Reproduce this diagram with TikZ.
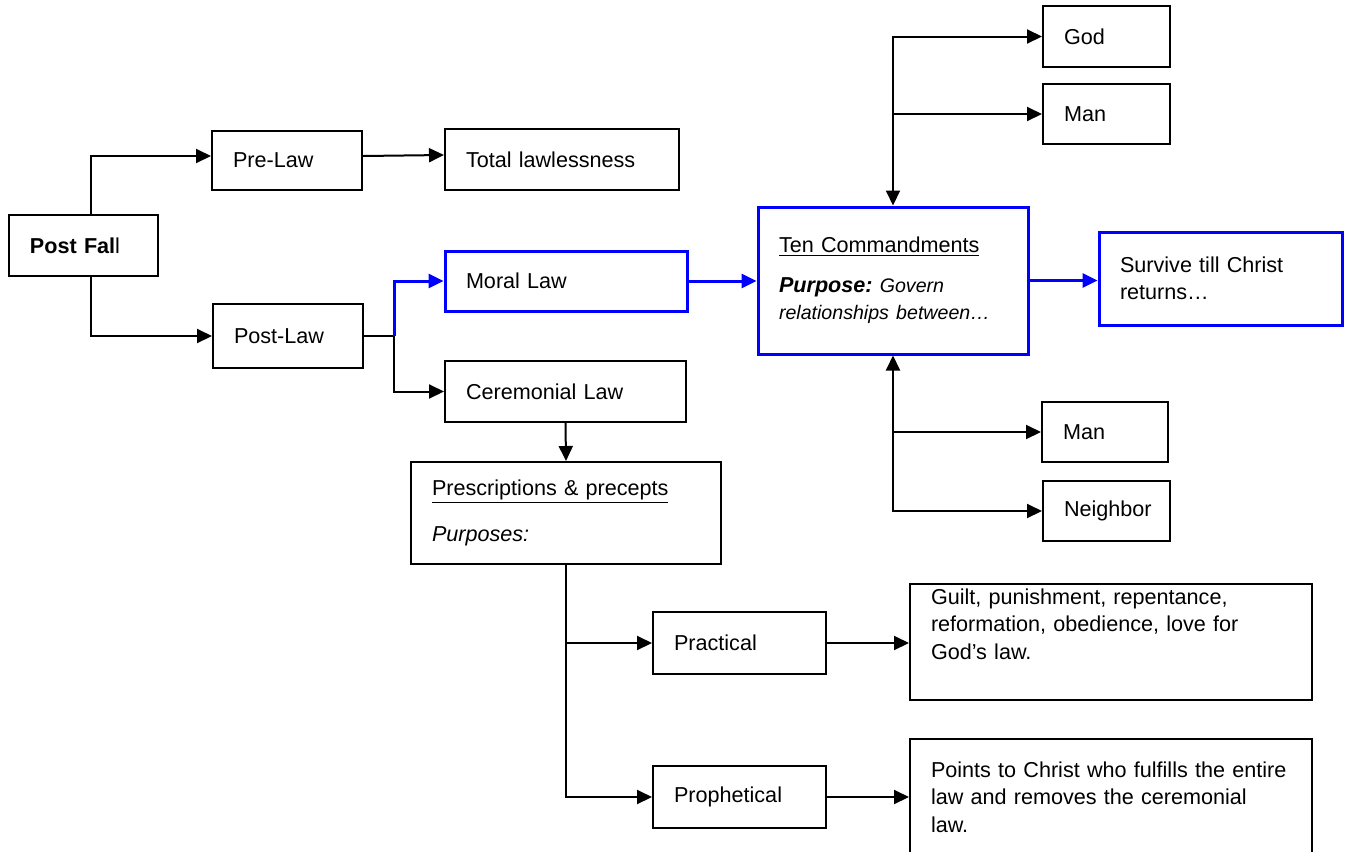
\documentclass[tikz,border=0pt]{standalone}
\usepackage{fontspec}
\setmainfont{Liberation Sans}
\usetikzlibrary{arrows.meta,calc}
\hyphenpenalty=10000

\begin{document}
\begin{tikzpicture}[
    x=0.5pt, y=-0.5pt,
    box/.style={rectangle, draw, line width=1pt, inner xsep=10.5pt, inner ysep=0pt,
                align=left, font=\fontsize{10.8}{13.75}\selectfont},
    bluebox/.style={box, draw=blue, line width=1.5pt},
    arrow/.style={-{Triangle[length=7.5pt,width=7pt]}, line width=1pt},
    twoway/.style={{Triangle[length=7.5pt,width=7pt]}-{Triangle[length=7.5pt,width=7pt]}, line width=1pt},
    bluearrow/.style={arrow, blue, line width=1.5pt},
    link/.style={line width=1pt}
]
\useasboundingbox (0,0) rectangle (1345,852);
\fill[white] (0,0) rectangle (1345,852);
\clip (0,0) rectangle (1345,852);

\node[box, text width=53.5pt, minimum height=30.5pt] (postfall) at (83.5,245.5) {{\bfseries Post Fal}l};
\node[box, text width=54pt, minimum height=29.5pt]   (prelaw)   at (287,160.5)  {Pre-Law};
\node[box, text width=96pt, minimum height=30.5pt]   (total)    at (562,159.5)  {Total lawlessness};
\node[box, text width=54pt, minimum height=32pt]     (postlaw)  at (288,336)    {Post-Law};
\node[bluebox, text width=100pt, minimum height=30pt]  (moral)      at (566,281)   {Moral Law};
\node[box, text width=99.5pt, minimum height=30.5pt]   (ceremonial) at (565.5,391.5) {Ceremonial Law};

\node[bluebox, text width=114pt, minimum height=73.5pt] (tencom) at (893,280.5)
    {\underline{Ten Commandments}\\[6pt]
     {\bfseries\itshape Purpose:}~{\fontsize{9.8}{13.75}\selectfont\itshape Govern}\\
     {\fontsize{9.8}{13.75}\selectfont\itshape relationships between…}};
\node[bluebox, text width=100.5pt, minimum height=46.5pt] (survive) at (1220.5,278.5)
    {Survive till Christ\\returns…};

\node[box, text width=42.5pt, minimum height=30.5pt] (god)      at (1106.5,36.5) {God};
\node[box, text width=42.5pt, minimum height=30pt]   (mantop)   at (1106.5,114)  {Man};
\node[box, text width=42pt, minimum height=30pt]     (manbot)   at (1105,432)    {Man};
\node[box, text width=42.5pt, minimum height=30pt]   (neighbor) at (1106.5,511)  {Neighbor};

\node[box, text width=134pt, minimum height=51pt] (prescr) at (566,513)
    {\underline{Prescriptions \& precepts}\\[9.5pt]{\itshape Purposes:}};
\node[box, text width=65.5pt, minimum height=31pt] (practical)   at (739.5,643) {Practical};
\node[box, text width=65.5pt, minimum height=31pt] (prophetical) at (739.5,797) {Prophetical};
\node[box, text width=180pt, minimum height=58pt] (guilt) at (1111,642)
    {Guilt, punishment, repentance,\\reformation, obedience, love for\\God’s law.\\\strut};
\node[box, text width=180pt, minimum height=58pt] (points) at (1111,797)
    {Points to Christ who fulfills the entire\\law and removes the ceremonial\\law.};

% Before and after the law
\draw[arrow] ([xshift=3.75pt]postfall.north) |- ([yshift=2.25pt]prelaw.west);
\draw[arrow] ([xshift=3.75pt]postfall.south) |- (postlaw.west);
\draw[arrow] ([yshift=2.25pt]prelaw.east) -- ([yshift=2.25pt]total.west);

% Moral and ceremonial branches
\coordinate (split) at ($(postlaw.east)+(30,0)$);
\draw[link] (postlaw.east) -- (split);
\draw[bluearrow] (split) |- (moral.west);
\draw[arrow] (split) |- (ceremonial.west);
\draw[bluearrow] (moral.east) -- (moral.east -| tencom.west);
\draw[bluearrow] (tencom.east) -- (tencom.east -| survive.west);

% Relationships
\draw[twoway] (god.west) -| (tencom.north);
\draw[arrow] (tencom.north |- mantop.west) -- (mantop.west);
\draw[twoway] (neighbor.west) -| (tencom.south);
\draw[arrow] (tencom.south |- manbot.west) -- (manbot.west);

% Purposes of the ceremonial law
\draw[arrow] (ceremonial.south) -- (prescr.north);
\draw[arrow] (prescr.south) |- (prophetical.west);
\draw[arrow] (prescr.south |- practical.west) -- (practical.west);
\draw[arrow] (practical.east) -- (practical.east -| guilt.west);
\draw[arrow] (prophetical.east) -- (prophetical.east -| points.west);

\end{tikzpicture}
\end{document}
